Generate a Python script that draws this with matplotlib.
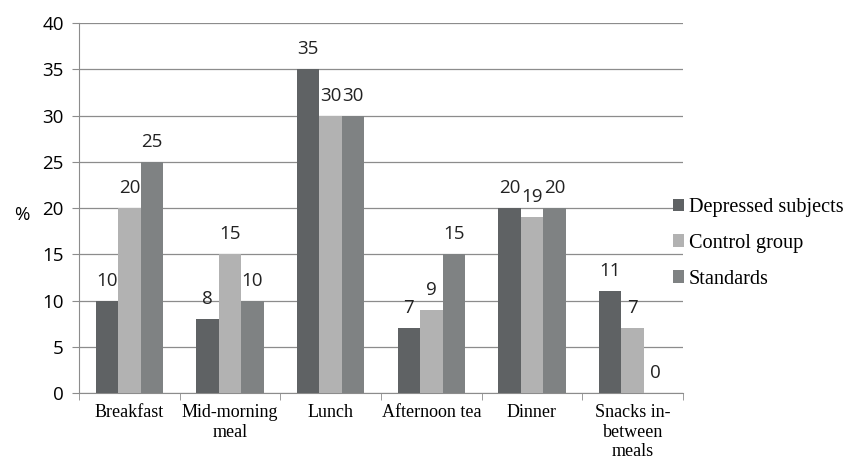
import matplotlib
matplotlib.use("Agg")
import matplotlib.pyplot as plt
import numpy as np

categories = ["Breakfast", "Mid-morning\nmeal", "Lunch", "Afternoon tea", "Dinner", "Snacks in-\nbetween\nmeals"]
depressed = [10, 8, 35, 7, 20, 11]
control = [20, 15, 30, 9, 19, 7]
standards = [25, 10, 30, 15, 20, 0]
series_names = ["Depressed subjects", "Control group", "Standards"]
colors = ["#5f6264", "#b2b2b2", "#7f8283"]

fig = plt.figure(figsize=(8.53, 4.63), dpi=100)
ax = fig.add_axes([79 / 853, 0.151, 604 / 853, 0.799])

x = np.arange(len(categories))
w = 0.223
num_font = "Open Sans"
for i, (vals, name, c) in enumerate(zip([depressed, control, standards], series_names, colors)):
    bars = ax.bar(x + (i - 1) * w, vals, w, color=c, label=name, zorder=3)
    for b, v in zip(bars, vals):
        ax.text(b.get_x() + b.get_width() / 2, v + 1.2, str(v), ha="center", va="bottom",
                fontsize=13.5, family=num_font, color="#222222")

ax.set_xlim(-0.5, len(categories) - 0.5)
ax.set_ylim(0, 40)
ax.set_yticks(range(0, 41, 5))
ax.yaxis.grid(True, color="#8c8c8c", linewidth=0.9, zorder=0)
ax.set_axisbelow(True)
for s in ["top", "right"]:
    ax.spines[s].set_visible(False)
ax.spines["left"].set_color("#8c8c8c")
ax.spines["bottom"].set_color("#8c8c8c")
ax.tick_params(axis="y", length=5, color="#8c8c8c", labelsize=13.5, pad=6)
for lbl in ax.get_yticklabels():
    lbl.set_family(num_font)
ax.set_xticks(np.arange(len(categories) + 1) - 0.5, minor=True)
ax.set_xticks(x)
ax.set_xticklabels(categories, family="Liberation Serif", fontsize=13, va="top", linespacing=1.2)
ax.tick_params(axis="x", which="major", length=0, pad=8)
ax.tick_params(axis="x", which="minor", length=5, color="#8c8c8c")

fig.text(14 / 853, 1 - 215 / 463, "%", family=num_font, fontsize=13.5, ha="left", va="center")

leg = ax.legend(loc="center left", bbox_to_anchor=(0.983, 0.405), frameon=False,
                prop={"family": "Liberation Serif", "size": 14.6},
                handlelength=0.55, handleheight=0.55, handletextpad=0.25, labelspacing=0.83,
                borderpad=0, borderaxespad=0)

fig.savefig("out.png", dpi=100)
